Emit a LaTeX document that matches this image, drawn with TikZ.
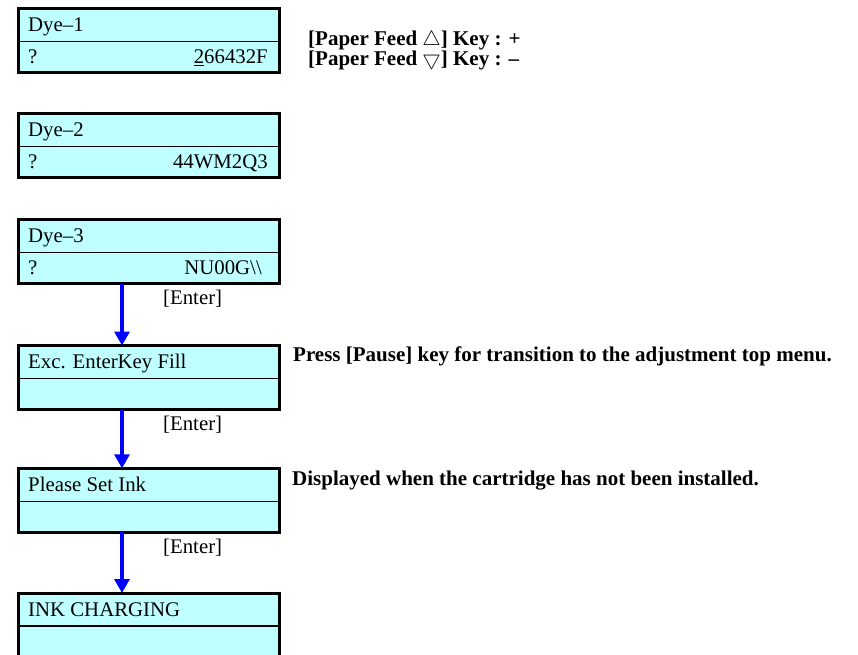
\documentclass[tikz,border=0pt]{standalone}
\usepackage{fontspec}
\setmainfont{Liberation Serif}
\usetikzlibrary{arrows.meta,positioning}
\definecolor{lcdfill}{RGB}{192,255,255}
\definecolor{arrblue}{RGB}{0,0,255}
\tikzset{
  rowtop/.style={draw=black, line width=1.2pt, fill=lcdfill, minimum width=261.4pt, minimum height=33pt, inner sep=0pt, outer sep=0pt, anchor=north west},
  rowbot/.style={draw=black, line width=1.2pt, fill=lcdfill, minimum width=261.4pt, minimum height=31pt, inner sep=0pt, outer sep=0pt, anchor=north west},
  frame/.style={draw=black, line width=3pt},
  lcdtxt/.style={font=\fontsize{20.8}{22}\selectfont, inner sep=0pt},
  note/.style={font=\fontsize{21}{20}\selectfont\bfseries, inner sep=0pt, anchor=base west},
  arr/.style={draw=arrblue, line width=3.2pt, -{Triangle[width=15pt,length=14pt]}},
}
\begin{document}
\begin{tikzpicture}[x=1pt,y=-1pt]
\clip (0,0) rectangle (858,654);
\fill[white] (0,0) rectangle (858,654);
% boxes
\foreach \n/\t in {1/8.3,2/113.5,3/219.7,4/345.5,5/468.3,6/593}{
  \node[rowtop] (b\n t) at (18.3,\t) {};
  \node[rowbot] (b\n b) at (b\n t.south west) {};
  \draw[frame] (b\n t.north west) rectangle (b\n b.south east);
}
% texts in boxes
\node[lcdtxt, anchor=base west] (t1a) at ([xshift=9.7pt, yshift=10pt]b1t.south west) {Dye–1};
\node[lcdtxt, anchor=base west] (t1b) at ([xshift=9.7pt, yshift=9pt]b1b.south west) {?};
\node[lcdtxt, anchor=base east] (t1c) at ([xshift=-11.7pt, yshift=9pt]b1b.south east) {\underline{2}66432F};
\node[lcdtxt, anchor=base west] (t2a) at ([xshift=9.7pt, yshift=10pt]b2t.south west) {Dye–2};
\node[lcdtxt, anchor=base west] (t2b) at ([xshift=9.7pt, yshift=9pt]b2b.south west) {?};
\node[lcdtxt, anchor=base east] (t2c) at ([xshift=-11.7pt, yshift=9pt]b2b.south east) {44WM2Q3};
\node[lcdtxt, anchor=base west] (t3a) at ([xshift=9.7pt, yshift=10pt]b3t.south west) {Dye–3};
\node[lcdtxt, anchor=base west] (t3b) at ([xshift=9.7pt, yshift=9pt]b3b.south west) {?};
\node[lcdtxt, anchor=base east] (t3c) at ([xshift=-17.7pt, yshift=9pt]b3b.south east) {NU00G\textbackslash\textbackslash};
\node[lcdtxt, anchor=base west] (t4a) at ([xshift=9.7pt, yshift=10pt]b4t.south west) {Exc. EnterKey Fill};
\node[lcdtxt, anchor=base west] (t5a) at ([xshift=9.7pt, yshift=10pt]b5t.south west) {Please Set Ink};
\node[lcdtxt, anchor=base west] (t6a) at ([xshift=9.7pt, yshift=10pt]b6t.south west) {INK CHARGING};
% arrows
\draw[arr] ([xshift=-27pt]b3b.south) -- ([xshift=-27pt]b4t.north);
\draw[arr] ([xshift=-27pt]b4b.south) -- ([xshift=-27pt]b5t.north);
\draw[arr] ([xshift=-27pt]b5b.south) -- ([xshift=-27pt]b6t.north);
% enter labels
\node[lcdtxt, anchor=base west] (e1) at ([xshift=144.7pt, yshift=-21pt]b3b.south west) {[Enter]};
\node[lcdtxt, anchor=base west] (e2) at ([xshift=144.7pt, yshift=-21pt]b4b.south west) {[Enter]};
\node[lcdtxt, anchor=base west] (e3) at ([xshift=144.7pt, yshift=-21pt]b5b.south west) {[Enter]};
% notes
\node[note] (n1) at (308,45) {[Paper Feed $\bigtriangleup$] Key : +};
\node[note] (n2) at (308,65) {[Paper Feed $\bigtriangledown$] Key : –};
\node[note] (n3) at (293,361) {Press [Pause] key for transition to the adjustment top menu.};
\node[note] (n4) at (292,485) {Displayed when the cartridge has not been installed.};
\end{tikzpicture}
\end{document}
